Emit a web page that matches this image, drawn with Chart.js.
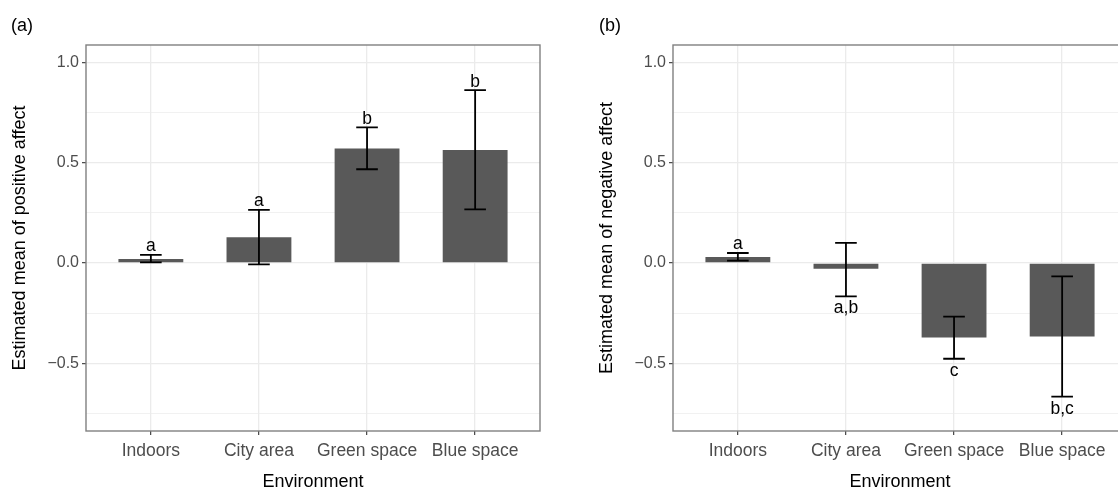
<!DOCTYPE html>
<html>
<head>
<meta charset="utf-8">
<script src="https://cdn.jsdelivr.net/npm/chart.js@4.4.1/dist/chart.umd.min.js"></script>
<style>
  html, body { margin: 0; padding: 0; background: #ffffff; width: 1118px; height: 491px; overflow: hidden; }
  #wrap { position: relative; width: 1118px; height: 491px; overflow: hidden; }
  canvas { position: absolute; top: 0; }
  #cA { left: 0; }
  #cB { left: 560px; }
</style>
</head>
<body>
<div id="wrap">
  <canvas id="cA" width="560" height="491"></canvas>
  <canvas id="cB" width="590" height="491"></canvas>
</div>
<script>
// ---- data ----
const categories = ['Indoors', 'City area', 'Green space', 'Blue space'];

const posMean    = [0.020, 0.128, 0.572, 0.564];
const posLow     = [0.003, -0.007, 0.468, 0.268];
const posHigh    = [0.041, 0.265, 0.677, 0.863];
const posLetters = ['a', 'a', 'b', 'b'];

const negMean    = [0.030, -0.029, -0.372, -0.367];
const negLow     = [0.012, -0.167, -0.478, -0.667];
const negHigh    = [0.050, 0.100, -0.268, -0.067];
const negLetters = ['a', 'a,b', 'c', 'b,c'];

const yTickValues = [-0.75, -0.5, -0.25, 0, 0.25, 0.5, 0.75, 1.0];
const yMin = -0.8385, yMax = 1.088;

const FONT = '"Liberation Sans", Arial, Helvetica, sans-serif';

function isMajor(v) { return Math.abs(v * 2 - Math.round(v * 2)) < 1e-6; }
function fmt(v) { const s = v.toFixed(1); return s.replace('-', '\u2212'); }

function annotPlugin(means, lows, highs, letters, tag, tagX) {
  return {
    id: 'annot',
    afterDatasetsDraw(chart) {
      const { ctx, scales: { x, y } } = chart;
      ctx.save();
      ctx.strokeStyle = '#000000';
      ctx.lineWidth = 1.8;
      ctx.lineCap = 'butt';
      means.forEach((m, i) => {
        const cx = x.getPixelForValue(i);
        const half = x.getPixelForValue(i + 0.1) - cx;
        const yh = y.getPixelForValue(highs[i]);
        const yl = y.getPixelForValue(lows[i]);
        ctx.beginPath();
        ctx.moveTo(cx, yh); ctx.lineTo(cx, yl);
        ctx.moveTo(cx - half, yh); ctx.lineTo(cx + half, yh);
        ctx.moveTo(cx - half, yl); ctx.lineTo(cx + half, yl);
        ctx.stroke();
        ctx.fillStyle = '#000000';
        ctx.font = '17.5px ' + FONT;
        ctx.textAlign = 'center';
        ctx.textBaseline = 'alphabetic';
        if (m >= 0) {
          ctx.fillText(letters[i], cx, yh - 3.5);
        } else {
          ctx.fillText(letters[i], cx, yl + 17);
        }
      });
      ctx.restore();
    },
    afterDraw(chart) {
      const { ctx, chartArea: a } = chart;
      ctx.save();
      ctx.strokeStyle = '#808080';
      ctx.lineWidth = 1.4;
      ctx.strokeRect(a.left, a.top, a.right - a.left, a.bottom - a.top);
      ctx.fillStyle = '#000000';
      ctx.font = '18px ' + FONT;
      ctx.textAlign = 'left';
      ctx.textBaseline = 'alphabetic';
      ctx.fillText(tag, tagX, 31);
      ctx.restore();
    }
  };
}

function makeChart(id, means, lows, highs, letters, tag, tagX, yTitle, padLeft, padRight) {
  const data = means.map((v, i) => ({ x: i, y: v }));
  return new Chart(document.getElementById(id), {
    type: 'bar',
    data: {
      datasets: [{
        data: data,
        backgroundColor: '#595959',
        borderWidth: 0,
        barPercentage: 0.6,
        categoryPercentage: 1.0
      }]
    },
    options: {
      responsive: false,
      animation: false,
      devicePixelRatio: 1,
      layout: { padding: { left: padLeft, right: padRight, top: 45, bottom: 0 } },
      plugins: { legend: { display: false }, tooltip: { enabled: false }, title: { display: false } },
      scales: {
        x: {
          type: 'linear',
          min: -0.6, max: 3.6,
          offset: false,
          border: { display: false },
          grid: { offset: false, color: '#EBEBEB', lineWidth: 1.3, tickColor: '#444444', tickWidth: 1.2, tickLength: 4 },
          afterBuildTicks: (s) => { s.ticks = categories.map((c, i) => ({ value: i })); },
          afterFit: (s) => { s.height = 60; },
          ticks: {
            callback: (v) => categories[v],
            color: '#4D4D4D',
            font: { family: FONT, size: 17.5 },
            padding: 6,
            maxRotation: 0, minRotation: 0, autoSkip: false
          },
          title: {
            display: true, text: 'Environment', color: '#000000',
            font: { family: FONT, size: 18, lineHeight: 1 },
            padding: { top: 0, bottom: 0 }
          }
        },
        y: {
          type: 'linear',
          min: yMin, max: yMax,
          border: { display: false },
          grid: {
            color: '#EBEBEB',
            lineWidth: (c) => (c.tick && isMajor(c.tick.value)) ? 1.3 : 0.7,
            tickColor: (c) => (c.tick && isMajor(c.tick.value)) ? '#444444' : 'rgba(0,0,0,0)',
            tickWidth: 1.2,
            tickLength: 4
          },
          afterBuildTicks: (s) => { s.ticks = yTickValues.map(v => ({ value: v })); },
          afterFit: (s) => { s.width = 86; },
          ticks: {
            callback: (v) => isMajor(v) ? fmt(v) : '',
            color: '#4D4D4D',
            font: { family: FONT, size: 16 },
            padding: 3
          },
          title: {
            display: true, text: yTitle, color: '#000000',
            font: { family: FONT, size: 18, lineHeight: 1 },
            padding: { top: 11, bottom: 0 }
          }
        }
      }
    },
    plugins: [annotPlugin(means, lows, highs, letters, tag, tagX)]
  });
}

makeChart('cA', posMean, posLow, posHigh, posLetters, '(a)', 11, 'Estimated mean of positive affect', 0, 20);
makeChart('cB', negMean, negLow, negHigh, negLetters, '(b)', 39, 'Estimated mean of negative affect', 27, 23);
</script>
</body>
</html>
